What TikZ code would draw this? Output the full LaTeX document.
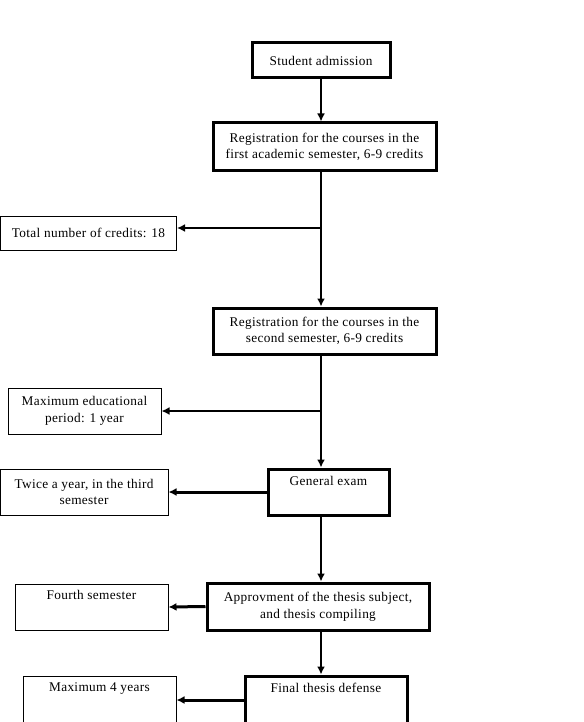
\documentclass[tikz,border=0pt]{standalone}
\usepackage{fontspec}
\setmainfont{Liberation Serif}[LetterSpace=2.5]
\usetikzlibrary{arrows.meta}
\begin{document}
\begin{tikzpicture}[x=1pt,y=-1pt,
  txt/.style={font=\fontsize{13.3}{16.5}\selectfont},
  thickbox/.style={draw,line width=3pt,rectangle,inner sep=0pt,align=center,txt},
  thinbox/.style={draw,line width=1pt,rectangle,inner sep=0pt,align=center,txt},
  lbl/.style={inner sep=0pt,anchor=north,align=center,txt},
  conn/.style={line width=2pt,-{Latex[length=8pt,width=8pt]}},
  connthick/.style={line width=3pt,-{Latex[length=8pt,width=8pt]}}]
\useasboundingbox (0,0) rectangle (583,722);
\coordinate (spine) at (321,0);
\coordinate (b1) at (321,228);
\coordinate (b2) at (321,411);
% main column
\node[thickbox,minimum width=138pt,minimum height=35pt] (adm) at (321,60.5) {Student admission};
\node[thickbox,minimum width=223pt,minimum height=48pt] (reg1) at (324.5,147) {Registration for the courses in the\\first academic semester, 6-9 credits};
\node[thickbox,minimum width=223pt,minimum height=46pt] (reg2) at (324.5,331) {Registration for the courses in the\\second semester, 6-9 credits};
\node[thickbox,minimum width=121pt,minimum height=46pt] (exam) at (328.5,492) {};
\node[lbl] (examt) at (328.5,476) {General exam};
\node[thickbox,minimum width=222pt,minimum height=47pt] (appr) at (318,606.5) {Approvment of the thesis subject,\\and thesis compiling};
\node[thickbox,minimum width=162pt,minimum height=48pt] (final) at (326,700) {};
\node[lbl] (finalt) at (326,683) {Final thesis defense};
% side boxes
\node[thinbox,minimum width=176pt,minimum height=34pt] (tot) at (88.5,233) {Total number of credits: 18};
\node[thinbox,minimum width=153pt,minimum height=46pt] (maxed) at (84.5,411) {Maximum educational\\period: 1 year};
\node[thinbox,minimum width=168pt,minimum height=46pt] (twice) at (84,492) {Twice a year, in the third\\semester};
\node[thinbox,minimum width=153pt,minimum height=46pt] (fourth) at (91.5,607) {};
\node[lbl] (fourtht) at (91.5,590) {Fourth semester};
\node[thinbox,minimum width=153pt,minimum height=48pt] (max4) at (99.5,700) {};
\node[lbl] (max4t) at (99.5,682) {Maximum 4 years};
% connectors
\draw[conn] (adm.south) -- (reg1.north -| spine);
\draw[conn] (reg1.south -| spine) -- (reg2.north -| spine);
\draw[conn] (b1) -- (tot.east |- b1);
\draw[conn] (reg2.south -| spine) -- (exam.north -| spine);
\draw[conn] (b2) -- (maxed.east |- b2);
\draw[connthick] (exam.west) -- (twice.east);
\draw[conn] (exam.south -| spine) -- (appr.north -| spine);
\draw[connthick] (appr.west) -- (fourth.east);
\draw[conn] (appr.south -| spine) -- (final.north -| spine);
\draw[connthick] (final.west) -- (max4.east);
\end{tikzpicture}
\end{document}
